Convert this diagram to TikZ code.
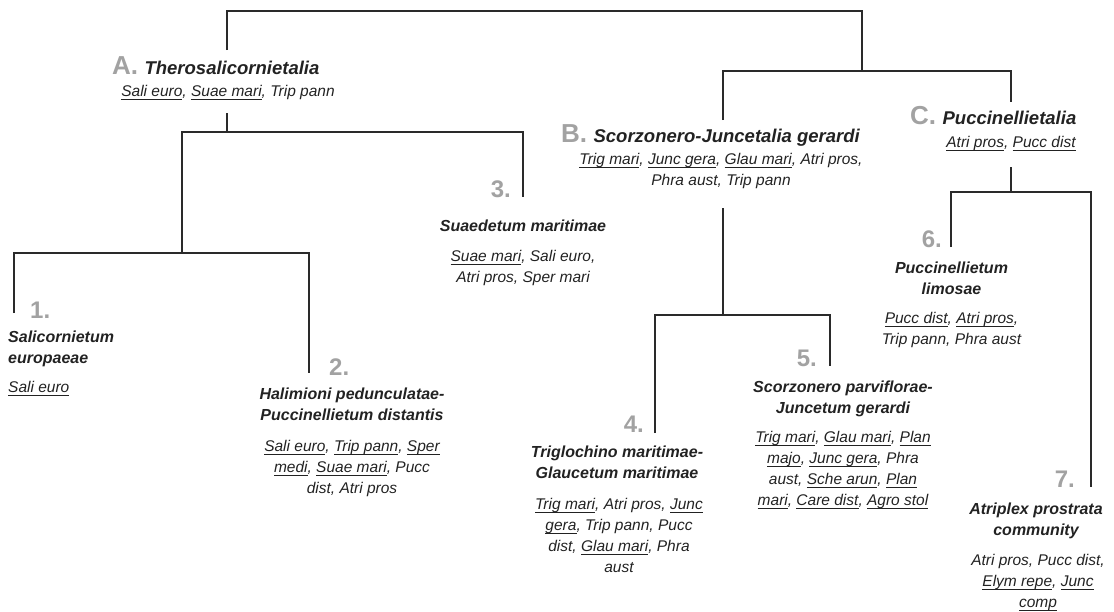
\documentclass[tikz,border=0pt]{standalone}
\usepackage{fontspec}
\setmainfont{Liberation Sans}
\definecolor{linegray}{HTML}{2A2A2A}
\definecolor{inkgray}{HTML}{222222}
\definecolor{numgray}{HTML}{A2A2A2}
\newsavebox{\spbox}
% underlined (diagnostic) species
\newcommand\spu[1]{\sbox\spbox{#1}\rlap{\rule[-3.5pt]{\wd\spbox}{1.3pt}}\usebox\spbox}

\begin{document}
\begin{tikzpicture}[
        x=1pt, y=-1pt,
        every node/.style={inner sep=0pt, text=inkgray},
        % Text styles
        orderbox/.style={font=\fontsize{18.5}{22}\selectfont\bfseries\itshape, anchor=base west},
        titlebox/.style={font=\fontsize{16}{21}\selectfont\bfseries\itshape, align=center, anchor=north},
        specbox/.style={font=\fontsize{15.5}{21}\selectfont\itshape, align=center, anchor=north},
        numlabel/.style={font=\fontsize{24}{24}\selectfont\bfseries, text=numgray},
        letterlabel/.style={numlabel, font=\fontsize{26}{26}\selectfont\bfseries, anchor=base west},
        % Connector style
        branch/.style={line width=1.9pt, draw=linegray}
    ]
    \useasboundingbox (0,0) rectangle (1114,611);

    % --- Orders (A, B, C) ---
    \node[letterlabel] (ltrA) at (112,74) {A.};
    \node[orderbox] (ordA) at ([xshift=6pt]ltrA.base east) {Therosalicornietalia};
    \node[specbox] (spA) at (228,85) {\spu{Sali euro}, \spu{Suae mari}, Trip pann};

    \node[letterlabel] (ltrB) at (561,142) {B.};
    \node[orderbox] (ordB) at ([xshift=6pt]ltrB.base east) {Scorzonero-Juncetalia gerardi};
    \node[specbox] (spB) at (721,153.5) {\spu{Trig mari}, \spu{Junc gera}, \spu{Glau mari}, Atri pros,\\Phra aust, Trip pann};

    \node[letterlabel] (ltrC) at (910,124) {C.};
    \node[orderbox] (ordC) at ([xshift=6pt]ltrC.base east) {Puccinellietalia};
    \node[specbox] (spC) at (1011,136.5) {\spu{Atri pros}, \spu{Pucc dist}};

    % --- Associations (1-7) ---
    \node[numlabel, anchor=base west] (num1) at (30,318) {1.};
    \node[titlebox, anchor=north west, align=left] (ttl1) at (8,330.5) {Salicornietum\\europaeae};
    \node[specbox, anchor=north west, align=left] (sp1) at (8,381.5) {\spu{Sali euro}};

    \node[numlabel, anchor=base west] (num2) at (329,375) {2.};
    \node[titlebox] (ttl2) at (352,387.5) {Halimioni pedunculatae-\\Puccinellietum distantis};
    \node[specbox] (sp2) at (352,440.5) {\spu{Sali euro}, \spu{Trip pann}, \spu{Sper}\\\spu{medi}, \spu{Suae mari}, Pucc\\dist, Atri pros};

    \node[numlabel, anchor=base east] (num3) at (511,197) {3.};
    \node[titlebox] (ttl3) at (523,219.5) {Suaedetum maritimae};
    \node[specbox] (sp3) at (523,250.5) {\spu{Suae mari}, Sali euro,\\Atri pros, Sper mari};

    \node[numlabel, anchor=base east] (num4) at (644,432) {4.};
    \node[titlebox] (ttl4) at (617,445.5) {Triglochino maritimae-\\Glaucetum maritimae};
    \node[specbox] (sp4) at (619,498.5) {\spu{Trig mari}, Atri pros, \spu{Junc}\\\spu{gera}, Trip pann, Pucc\\dist, \spu{Glau mari}, Phra\\aust};

    \node[numlabel, anchor=base east] (num5) at (817,366) {5.};
    \node[titlebox] (ttl5) at (843,380.5) {Scorzonero parviflorae-\\Juncetum gerardi};
    \node[specbox] (sp5) at (843,431.5) {\spu{Trig mari}, \spu{Glau mari}, \spu{Plan}\\\spu{majo}, \spu{Junc gera}, Phra\\aust, \spu{Sche arun}, \spu{Plan}\\\spu{mari}, \spu{Care dist}, \spu{Agro stol}};

    \node[numlabel, anchor=base east] (num6) at (942,247) {6.};
    \node[titlebox] (ttl6) at (951.5,261.5) {Puccinellietum\\limosae};
    \node[specbox] (sp6) at (951.5,312.5) {\spu{Pucc dist}, \spu{Atri pros},\\Trip pann, Phra aust};

    \node[numlabel, anchor=base east] (num7) at (1075,487) {7.};
    \node[titlebox] (ttl7) at (1036,502.5) {Atriplex prostrata\\community};
    \node[specbox] (sp7) at (1038,554.5) {Atri pros, Pucc dist,\\\spu{Elym repe}, \spu{Junc}\\\spu{comp}};

    % --- Branch points ---
    \coordinate (root) at (544,11);
    \coordinate (inA) at (227,50);
    \coordinate (splitBC) at (862,71);
    \coordinate (inB) at (723,120);
    \coordinate (inC) at (1011,102);
    \coordinate (outA) at (227,113);
    \coordinate (splitA) at (227,132);
    \coordinate (split12) at (182,253);
    \coordinate (in1) at (14,313);
    \coordinate (in2) at (309,373);
    \coordinate (in3) at (523,197);
    \coordinate (outB) at (723,208);
    \coordinate (splitB) at (723,315);
    \coordinate (in4) at (655,433);
    \coordinate (in5) at (830,366);
    \coordinate (outC) at (1011,167);
    \coordinate (splitC) at (1011,192);
    \coordinate (in6) at (951,247);
    \coordinate (in7) at (1091,487);

    % --- Tree ---
    \draw[branch] (inA) |- (root) -| (splitBC);
    \draw[branch] (inB) |- (splitBC) -| (inC);
    \draw[branch] (outA) -- (splitA);
    \draw[branch] (split12) |- (splitA) -| (in3);
    \draw[branch] (in1) |- (split12) -| (in2);
    \draw[branch] (outB) -- (splitB);
    \draw[branch] (in4) |- (splitB) -| (in5);
    \draw[branch] (outC) -- (splitC);
    \draw[branch] (in6) |- (splitC) -| (in7);

\end{tikzpicture}
\end{document}
